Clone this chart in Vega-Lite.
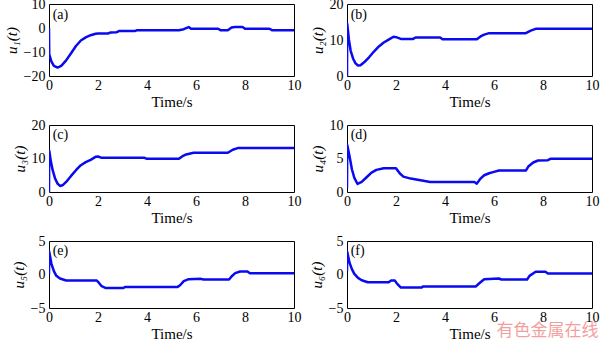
{
  "$schema": "https://vega.github.io/schema/vega-lite/v6.json",
  "background": "white",
  "padding": {"left": 3, "top": -4, "right": 0, "bottom": 0},
  "config": {
    "view": {"stroke": "black", "strokeWidth": 1},
    "axis": {"labelOverlap": false, "labelFont": "Liberation Serif, Times New Roman, serif", "titleFont": "Liberation Serif, Times New Roman, serif"}
  },
  "datasets": {
    "a": [{"t":0,"u":0},{"t":0.01,"u":-11},{"t":0.1,"u":-14},{"t":0.2,"u":-15.8},{"t":0.35,"u":-16.5},{"t":0.5,"u":-15.8},{"t":0.7,"u":-13.5},{"t":0.9,"u":-10.5},{"t":1.1,"u":-7.5},{"t":1.3,"u":-5.2},{"t":1.5,"u":-3.9},{"t":1.7,"u":-3},{"t":1.9,"u":-2.4},{"t":2.0,"u":-2.3},{"t":2.4,"u":-2.3},{"t":2.5,"u":-1.9},{"t":2.75,"u":-1.8},{"t":2.85,"u":-1.3},{"t":3.5,"u":-1.3},{"t":3.6,"u":-0.9},{"t":5.3,"u":-0.9},{"t":5.5,"u":-0.5},{"t":5.7,"u":0.4},{"t":5.8,"u":-0.3},{"t":6.9,"u":-0.3},{"t":7.0,"u":-0.9},{"t":7.3,"u":-0.9},{"t":7.45,"u":0.2},{"t":7.6,"u":0.4},{"t":7.9,"u":0.4},{"t":8.0,"u":-0.3},{"t":9.0,"u":-0.3},{"t":9.1,"u":-0.9},{"t":10,"u":-0.9}],
    "b": [{"t":0,"u":0},{"t":0.01,"u":14.5},{"t":0.08,"u":10},{"t":0.15,"u":7},{"t":0.25,"u":4.8},{"t":0.35,"u":3.5},{"t":0.45,"u":2.9},{"t":0.55,"u":3},{"t":0.7,"u":3.8},{"t":0.9,"u":5.2},{"t":1.1,"u":6.8},{"t":1.3,"u":8.2},{"t":1.5,"u":9.3},{"t":1.7,"u":10.1},{"t":1.9,"u":10.9},{"t":2.0,"u":10.8},{"t":2.2,"u":10.3},{"t":2.7,"u":10.3},{"t":2.8,"u":10.7},{"t":3.8,"u":10.7},{"t":3.9,"u":10.2},{"t":5.3,"u":10.2},{"t":5.45,"u":11},{"t":5.6,"u":11.5},{"t":5.8,"u":11.9},{"t":7.3,"u":11.9},{"t":7.5,"u":12.6},{"t":7.7,"u":13.1},{"t":10,"u":13.1}],
    "c": [{"t":0,"u":0},{"t":0.01,"u":12.3},{"t":0.08,"u":9},{"t":0.15,"u":6.5},{"t":0.25,"u":4},{"t":0.35,"u":2.5},{"t":0.45,"u":1.8},{"t":0.55,"u":2},{"t":0.7,"u":3},{"t":0.9,"u":4.8},{"t":1.1,"u":6.5},{"t":1.3,"u":8},{"t":1.5,"u":8.9},{"t":1.7,"u":9.6},{"t":1.9,"u":10.5},{"t":2.0,"u":10.6},{"t":2.15,"u":10.2},{"t":3.9,"u":10.2},{"t":4.0,"u":9.9},{"t":5.3,"u":9.9},{"t":5.45,"u":10.7},{"t":5.6,"u":11.2},{"t":5.9,"u":11.7},{"t":7.3,"u":11.7},{"t":7.5,"u":12.6},{"t":7.7,"u":13.1},{"t":10,"u":13.1}],
    "d": [{"t":0,"u":0.6},{"t":0.01,"u":7},{"t":0.1,"u":5.4},{"t":0.2,"u":3.4},{"t":0.3,"u":2.1},{"t":0.43,"u":1.2},{"t":0.6,"u":1.5},{"t":0.8,"u":2.2},{"t":1.0,"u":2.9},{"t":1.2,"u":3.3},{"t":1.5,"u":3.55},{"t":2.0,"u":3.55},{"t":2.15,"u":2.8},{"t":2.3,"u":2.3},{"t":2.6,"u":2.0},{"t":3.0,"u":1.75},{"t":3.4,"u":1.5},{"t":5.2,"u":1.5},{"t":5.3,"u":1.25},{"t":5.45,"u":2.0},{"t":5.6,"u":2.5},{"t":5.8,"u":2.8},{"t":6.0,"u":3.0},{"t":6.2,"u":3.2},{"t":7.3,"u":3.2},{"t":7.4,"u":3.8},{"t":7.6,"u":4.4},{"t":7.8,"u":4.7},{"t":8.2,"u":4.75},{"t":8.3,"u":4.95},{"t":10,"u":4.95}],
    "e": [{"t":0,"u":0},{"t":0.01,"u":3.4},{"t":0.1,"u":1.6},{"t":0.2,"u":0.5},{"t":0.3,"u":-0.2},{"t":0.45,"u":-0.6},{"t":0.7,"u":-0.9},{"t":1.95,"u":-0.9},{"t":2.05,"u":-1.3},{"t":2.15,"u":-1.75},{"t":2.3,"u":-2.0},{"t":3.05,"u":-2.0},{"t":3.1,"u":-1.85},{"t":5.25,"u":-1.85},{"t":5.35,"u":-1.6},{"t":5.5,"u":-1.0},{"t":5.7,"u":-0.7},{"t":6.2,"u":-0.65},{"t":6.3,"u":-0.75},{"t":7.35,"u":-0.75},{"t":7.45,"u":-0.3},{"t":7.6,"u":0.2},{"t":7.8,"u":0.45},{"t":8.1,"u":0.45},{"t":8.2,"u":0.2},{"t":10,"u":0.2}],
    "f": [{"t":0,"u":0.5},{"t":0.01,"u":3.4},{"t":0.1,"u":1.8},{"t":0.2,"u":0.8},{"t":0.3,"u":0.1},{"t":0.45,"u":-0.5},{"t":0.6,"u":-0.85},{"t":0.85,"u":-1.15},{"t":1.7,"u":-1.15},{"t":1.8,"u":-0.9},{"t":1.95,"u":-0.9},{"t":2.05,"u":-1.4},{"t":2.2,"u":-1.95},{"t":3.05,"u":-1.95},{"t":3.1,"u":-1.8},{"t":5.25,"u":-1.8},{"t":5.4,"u":-1.3},{"t":5.6,"u":-0.7},{"t":6.2,"u":-0.6},{"t":6.3,"u":-0.75},{"t":7.35,"u":-0.75},{"t":7.45,"u":-0.2},{"t":7.7,"u":0.4},{"t":8.1,"u":0.4},{"t":8.2,"u":0.15},{"t":10,"u":0.15}]
  },
  "columns": 2,
  "spacing": {"row": 49, "column": 53},
  "bounds": "flush",
  "concat": [
    {"width": 245, "height": 72, "layer": [
      {"data": {"name": "a"}, "mark": {"type": "line", "color": "#0a0af0", "strokeWidth": 2.5, "strokeJoin": "round", "clip": true},
       "encoding": {"x": {"field": "t", "type": "quantitative", "scale": {"domain": [0, 10], "nice": false}, "axis": {"title": "Time/s", "values": [0,2,4,6,8,10], "domain": false, "grid": false, "ticks": false, "labelOverlap": false, "labelFlush": false, "labelFontSize": 14, "labelColor": "black", "labelPadding": 2, "titleFontSize": 15, "titleFontWeight": "normal", "titleColor": "black", "titlePadding": 2}},
                    "y": {"field": "u", "type": "quantitative", "scale": {"domain": [-20, 10], "nice": false}, "axis": {"title": "u₁(t)", "tickCount": 3, "domain": false, "grid": false, "ticks": false, "labelOverlap": false, "labelFlush": false, "labelFontSize": 14, "labelColor": "black", "labelPadding": 4, "titleFontSize": 15, "titleFontWeight": "normal", "titleFontStyle": "italic", "titleColor": "black", "titlePadding": 4}}}},
      {"data": {"values": [{}]}, "mark": {"type": "text", "text": "(a)", "align": "left", "baseline": "middle", "fontSize": 14, "font": "Liberation Serif, Times New Roman, serif", "color": "black"},
       "encoding": {"x": {"datum": 0.15}, "y": {"datum": 5.5}}}
    ]},
    {"width": 245, "height": 72, "layer": [
      {"data": {"name": "b"}, "mark": {"type": "line", "color": "#0a0af0", "strokeWidth": 2.5, "strokeJoin": "round", "clip": true},
       "encoding": {"x": {"field": "t", "type": "quantitative", "scale": {"domain": [0, 10], "nice": false}, "axis": {"title": "Time/s", "values": [0,2,4,6,8,10], "domain": false, "grid": false, "ticks": false, "labelOverlap": false, "labelFlush": false, "labelFontSize": 14, "labelColor": "black", "labelPadding": 2, "titleFontSize": 15, "titleFontWeight": "normal", "titleColor": "black", "titlePadding": 2}},
                    "y": {"field": "u", "type": "quantitative", "scale": {"domain": [0, 20], "nice": false}, "axis": {"title": "u₂(t)", "tickCount": 2, "domain": false, "grid": false, "ticks": false, "labelOverlap": false, "labelFlush": false, "labelFontSize": 14, "labelColor": "black", "labelPadding": 4, "titleFontSize": 15, "titleFontWeight": "normal", "titleFontStyle": "italic", "titleColor": "black", "titlePadding": 4}}}},
      {"data": {"values": [{}]}, "mark": {"type": "text", "text": "(b)", "align": "left", "baseline": "middle", "fontSize": 14, "font": "Liberation Serif, Times New Roman, serif", "color": "black"},
       "encoding": {"x": {"datum": 0.15}, "y": {"datum": 17}}}
    ]},
    {"width": 245, "height": 67, "layer": [
      {"data": {"name": "c"}, "mark": {"type": "line", "color": "#0a0af0", "strokeWidth": 2.5, "strokeJoin": "round", "clip": true},
       "encoding": {"x": {"field": "t", "type": "quantitative", "scale": {"domain": [0, 10], "nice": false}, "axis": {"title": "Time/s", "values": [0,2,4,6,8,10], "domain": false, "grid": false, "ticks": false, "labelOverlap": false, "labelFlush": false, "labelFontSize": 14, "labelColor": "black", "labelPadding": 2, "titleFontSize": 15, "titleFontWeight": "normal", "titleColor": "black", "titlePadding": 2}},
                    "y": {"field": "u", "type": "quantitative", "scale": {"domain": [0, 20], "nice": false}, "axis": {"title": "u₃(t)", "tickCount": 2, "domain": false, "grid": false, "ticks": false, "labelOverlap": false, "labelFlush": false, "labelFontSize": 14, "labelColor": "black", "labelPadding": 4, "titleFontSize": 15, "titleFontWeight": "normal", "titleFontStyle": "italic", "titleColor": "black", "titlePadding": 4}}}},
      {"data": {"values": [{}]}, "mark": {"type": "text", "text": "(c)", "align": "left", "baseline": "middle", "fontSize": 14, "font": "Liberation Serif, Times New Roman, serif", "color": "black"},
       "encoding": {"x": {"datum": 0.15}, "y": {"datum": 17}}}
    ]},
    {"width": 245, "height": 67, "layer": [
      {"data": {"name": "d"}, "mark": {"type": "line", "color": "#0a0af0", "strokeWidth": 2.5, "strokeJoin": "round", "clip": true},
       "encoding": {"x": {"field": "t", "type": "quantitative", "scale": {"domain": [0, 10], "nice": false}, "axis": {"title": "Time/s", "values": [0,2,4,6,8,10], "domain": false, "grid": false, "ticks": false, "labelOverlap": false, "labelFlush": false, "labelFontSize": 14, "labelColor": "black", "labelPadding": 2, "titleFontSize": 15, "titleFontWeight": "normal", "titleColor": "black", "titlePadding": 2}},
                    "y": {"field": "u", "type": "quantitative", "scale": {"domain": [0, 10], "nice": false}, "axis": {"title": "u₄(t)", "tickCount": 2, "domain": false, "grid": false, "ticks": false, "labelOverlap": false, "labelFlush": false, "labelFontSize": 14, "labelColor": "black", "labelPadding": 4, "titleFontSize": 15, "titleFontWeight": "normal", "titleFontStyle": "italic", "titleColor": "black", "titlePadding": 4}}}},
      {"data": {"values": [{}]}, "mark": {"type": "text", "text": "(d)", "align": "left", "baseline": "middle", "fontSize": 14, "font": "Liberation Serif, Times New Roman, serif", "color": "black"},
       "encoding": {"x": {"datum": 0.15}, "y": {"datum": 8.5}}}
    ]},
    {"width": 245, "height": 67, "layer": [
      {"data": {"name": "e"}, "mark": {"type": "line", "color": "#0a0af0", "strokeWidth": 2.5, "strokeJoin": "round", "clip": true},
       "encoding": {"x": {"field": "t", "type": "quantitative", "scale": {"domain": [0, 10], "nice": false}, "axis": {"title": "Time/s", "values": [0,2,4,6,8,10], "domain": false, "grid": false, "ticks": false, "labelOverlap": false, "labelFlush": false, "labelFontSize": 14, "labelColor": "black", "labelPadding": 2, "titleFontSize": 15, "titleFontWeight": "normal", "titleColor": "black", "titlePadding": 2}},
                    "y": {"field": "u", "type": "quantitative", "scale": {"domain": [-5, 5], "nice": false}, "axis": {"title": "u₅(t)", "tickCount": 2, "domain": false, "grid": false, "ticks": false, "labelOverlap": false, "labelFlush": false, "labelFontSize": 14, "labelColor": "black", "labelPadding": 4, "titleFontSize": 15, "titleFontWeight": "normal", "titleFontStyle": "italic", "titleColor": "black", "titlePadding": 4}}}},
      {"data": {"values": [{}]}, "mark": {"type": "text", "text": "(e)", "align": "left", "baseline": "middle", "fontSize": 14, "font": "Liberation Serif, Times New Roman, serif", "color": "black"},
       "encoding": {"x": {"datum": 0.15}, "y": {"datum": 3.5}}}
    ]},
    {"width": 245, "height": 67, "layer": [
      {"data": {"name": "f"}, "mark": {"type": "line", "color": "#0a0af0", "strokeWidth": 2.5, "strokeJoin": "round", "clip": true},
       "encoding": {"x": {"field": "t", "type": "quantitative", "scale": {"domain": [0, 10], "nice": false}, "axis": {"title": "Time/s", "values": [0,2,4,6,8,10], "domain": false, "grid": false, "ticks": false, "labelOverlap": false, "labelFlush": false, "labelFontSize": 14, "labelColor": "black", "labelPadding": 2, "titleFontSize": 15, "titleFontWeight": "normal", "titleColor": "black", "titlePadding": 2}},
                    "y": {"field": "u", "type": "quantitative", "scale": {"domain": [-5, 5], "nice": false}, "axis": {"title": "u₆(t)", "tickCount": 2, "domain": false, "grid": false, "ticks": false, "labelOverlap": false, "labelFlush": false, "labelFontSize": 14, "labelColor": "black", "labelPadding": 4, "titleFontSize": 15, "titleFontWeight": "normal", "titleFontStyle": "italic", "titleColor": "black", "titlePadding": 4}}}},
      {"data": {"values": [{}]}, "mark": {"type": "text", "text": "(f)", "align": "left", "baseline": "middle", "fontSize": 14, "font": "Liberation Serif, Times New Roman, serif", "color": "black"},
       "encoding": {"x": {"datum": 0.15}, "y": {"datum": 3.5}}},
      {"data": {"values": [{}]}, "mark": {"type": "text", "text": "有色金属在线", "align": "left", "baseline": "middle", "fontSize": 17, "font": "Noto Sans CJK SC", "color": "#f08080", "opacity": 0.75},
       "encoding": {"x": {"datum": 6.1}, "y": {"datum": -8.4}}}
    ]}
  ]
}
